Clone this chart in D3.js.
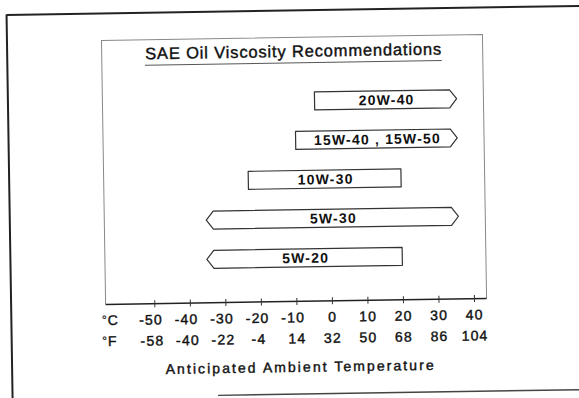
<!DOCTYPE html>
<html>
<head>
<meta charset="utf-8">
<script src="https://cdn.jsdelivr.net/npm/d3@7/dist/d3.min.js"></script>
<style>
  html, body { margin: 0; padding: 0; background: #fff; }
  svg { display: block; }
  text { font-family: "Liberation Sans", Arial, Helvetica, sans-serif; fill: #111; }
  .heavy { stroke: #111; stroke-width: 0.4px; }
</style>
</head>
<body>
<svg id="chart" width="579" height="398"></svg>
<script>
// Oil grades and the ambient temperature range (°C) each one covers
const grades = ["20W-40", "15W-40 , 15W-50", "10W-30", "5W-30", "5W-20"];
const lowTemps = [-4, -9.5, -23, -35, -35];
const highTemps = [36, 36, 20, 36, 20];
const openLow = [false, false, false, true, true];
const openHigh = [true, true, false, true, false];

// Temperature scale labels
const celsiusTicks = [-50, -40, -30, -20, -10, 0, 10, 20, 30, 40];
const fahrenheitLabels = ["-58", "-40", "-22", "-4", "14", "32", "50", "68", "86", "104"];

const titleText = "SAE Oil Viscosity Recommendations";
const axisTitle = "Anticipated Ambient Temperature";

const svg = d3.select("#chart");
const g = svg.append("g").attr("transform", "rotate(-0.9 290 200)");

const box = { left: 104, right: 485, top: 37.5, bottom: 301.5 };

const x = d3.scaleLinear().domain([-50, 40]).range([152.7, 472.4]);
const y = d3.scalePoint().domain(grades).range([101.3, 258.1]);
const barH = 18;
const tip = 7;

// outer page frame
g.append("line").attr("x1", 9.5).attr("x2", 600).attr("y1", 10.5).attr("y2", 10.5)
  .attr("stroke", "#222").attr("stroke-width", 2);
g.append("line").attr("x1", 9.5).attr("x2", 9.5).attr("y1", 10).attr("y2", 420)
  .attr("stroke", "#222").attr("stroke-width", 2);
g.append("line").attr("x1", 215).attr("x2", 600).attr("y1", 394.2).attr("y2", 394.2)
  .attr("stroke", "#444").attr("stroke-width", 1.4);

// inner chart box (top, left, right)
g.append("path")
  .attr("d", `M${box.left},${box.bottom} V${box.top} H${box.right} V${box.bottom}`)
  .attr("fill", "none").attr("stroke", "#888").attr("stroke-width", 1);

// title with underline
g.append("text")
  .attr("class", "heavy")
  .attr("x", 295.5).attr("y", 57)
  .attr("text-anchor", "middle")
  .attr("font-size", 16.5)
  .attr("textLength", 296).attr("lengthAdjust", "spacing")
  .text(titleText);
g.append("line").attr("x1", 147).attr("x2", 444).attr("y1", 63).attr("y2", 63)
  .attr("stroke", "#555").attr("stroke-width", 1);

// range bars: flat ends are closed limits, pointed ends are open-ended
function barPath(i) {
  const c = y(grades[i]);
  const t = c - barH / 2, b = c + barH / 2;
  const x0 = x(lowTemps[i]), x1 = x(highTemps[i]);
  const l = openLow[i] ? x0 + tip : x0;
  const r = openHigh[i] ? x1 - tip : x1;
  let d = `M${l},${t} H${r}`;
  d += openHigh[i] ? ` L${x1},${c} L${r},${b}` : ` V${b}`;
  d += ` H${l}`;
  d += openLow[i] ? ` L${x0},${c} Z` : ` Z`;
  return d;
}

const bars = g.append("g").selectAll("g").data(grades.map((d, i) => i)).join("g");
bars.append("path")
  .attr("d", barPath)
  .attr("fill", "#fff").attr("stroke", "#333").attr("stroke-width", 1.2)
  .attr("stroke-linejoin", "round");
bars.append("text")
  .attr("x", i => (x(lowTemps[i]) + x(highTemps[i])) / 2 + 1)
  .attr("y", i => y(grades[i]) + 5)
  .attr("text-anchor", "middle")
  .attr("font-size", 14).attr("font-weight", "bold")
  .attr("letter-spacing", 1.2)
  .text(i => grades[i]);

// temperature axes
const axisG = g.append("g").attr("transform", `translate(0,${box.bottom})`);
axisG.append("line").attr("x1", box.left).attr("x2", box.right)
  .attr("stroke", "#222").attr("stroke-width", 1.5);

const cAxis = axisG.append("g")
  .call(d3.axisBottom(x).tickValues(celsiusTicks).tickSize(3.5).tickPadding(7.5)
    .tickFormat(d3.format("d")));
cAxis.select(".domain").remove();
cAxis.selectAll(".tick line").attr("y1", -3.5).attr("y2", 3.5).attr("stroke", "#333");
cAxis.selectAll(".tick text")
  .attr("class", "heavy")
  .attr("font-size", 14).attr("font-family", null).attr("fill", "#111")
  .attr("letter-spacing", 1.2)
  .attr("dx", d => d < 0 ? -4 : 0)
  .text(d => String(d).replace("−", "-"));

const fAxis = axisG.append("g")
  .call(d3.axisBottom(x).tickValues(celsiusTicks).tickSize(0).tickPadding(32)
    .tickFormat((d, i) => fahrenheitLabels[i]));
fAxis.select(".domain").remove();
fAxis.selectAll(".tick line").remove();
fAxis.selectAll(".tick text")
  .attr("class", "heavy")
  .attr("font-size", 14).attr("font-family", null).attr("fill", "#111")
  .attr("letter-spacing", 1.2)
  .attr("dx", (d, i) => fahrenheitLabels[i].startsWith("-") ? -3 : 0);

// unit markers
[["C", 322], ["F", 343]].forEach(([u, yy]) => {
  const t = g.append("text").attr("class", "heavy").attr("x", 100).attr("y", yy).attr("font-size", 14);
  t.append("tspan").attr("font-size", 12).attr("dy", -1).attr("stroke-width", 0.2).text("°");
  t.append("tspan").attr("dx", 1).attr("dy", 1).text(u);
});

// axis title
g.append("text")
  .attr("class", "heavy")
  .attr("x", 297).attr("y", 372)
  .attr("text-anchor", "middle")
  .attr("font-size", 14)
  .attr("textLength", 268).attr("lengthAdjust", "spacing")
  .text(axisTitle);
</script>
</body>
</html>
